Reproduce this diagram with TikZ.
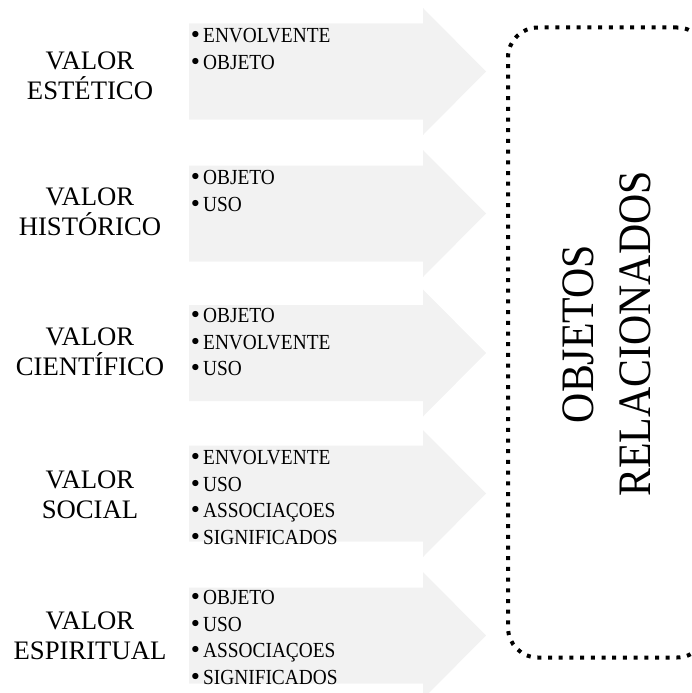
\documentclass[tikz,border=0pt]{standalone}
\usepackage{fontspec}
\setmainfont{Liberation Serif}
\newfontfamily\estreita{Liberation Serif}[FakeStretch=0.9]
\newfontfamily\simbolo{DejaVu Sans}
\usepackage{tikz}
\definecolor{setagray}{HTML}{F2F2F2}
\newcommand{\itm}[1]{\makebox[12.5pt][l]{\hspace{-1.5pt}\simbolo •}#1}

\begin{document}
\begin{tikzpicture}[
    x=1pt, y=-1pt, % pixel units, y downwards
    valor/.style = {align=center, inner sep=0, font=\fontsize{26.7}{30}\selectfont},
    lista/.style = {anchor=north west, align=left, inner sep=0, font=\estreita\fontsize{21.5}{26.5}\selectfont},
    caixa/.style = {draw=black, line width=4pt, dash pattern=on 4pt off 6.7pt, rounded corners=30pt},
    seta/.pic = {\fill[setagray] (0,-48) -- (234,-48) -- (234,-63.5) -- (297,0) -- (234,63.5) -- (234,48) -- (0,48) -- cycle;}
    ]
    \useasboundingbox (0,0) rectangle (692,693);
    \clip (0,0) rectangle (692,693);
    % grey arrows
    \pic at (189,71.5) {seta};
    \pic at (189,213.5) {seta};
    \pic at (189,353) {seta};
    \pic at (189,493.5) {seta};
    \pic at (189,635.5) {seta};
    % values
    \node[valor] (v1) at (90,76) {VALOR\\ESTÉTICO};
    \node[valor] (v2) at (90,211.5) {VALOR\\HISTÓRICO};
    \node[valor] (v3) at (90,351.5) {VALOR\\CIENTÍFICO};
    \node[valor] (v4) at (90,495) {VALOR\\SOCIAL};
    \node[valor] (v5) at (90,636) {VALOR\\ESPIRITUAL};
    % lists
    \node[lista] (l1) at (190.5,28.4) {\itm{ENVOLVENTE}\\\itm{OBJETO}};
    \node[lista] (l2) at (190.5,170.4) {\itm{OBJETO}\\\itm{USO}};
    \node[lista] (l3) at (190.5,308.4) {\itm{OBJETO}\\\itm{ENVOLVENTE}\\\itm{USO}};
    \node[lista] (l4) at (190.5,450.4) {\itm{ENVOLVENTE}\\\itm{USO}\\\itm{ASSOCIAÇOES}\\\itm{SIGNIFICADOS}};
    \node[lista] (l5) at (190.5,590.4) {\itm{OBJETO}\\\itm{USO}\\\itm{ASSOCIAÇOES}\\\itm{SIGNIFICADOS}};
    % dotted box
    \node[caixa, minimum width=199pt, minimum height=630pt] (objetos) at (607.5,342.5) {};
    \node[rotate=90, align=center, inner sep=0, font=\estreita\fontsize{46.5}{57.5}\selectfont] (relacionados) at (607,334) {OBJETOS\\RELACIONADOS};
\end{tikzpicture}
\end{document}
